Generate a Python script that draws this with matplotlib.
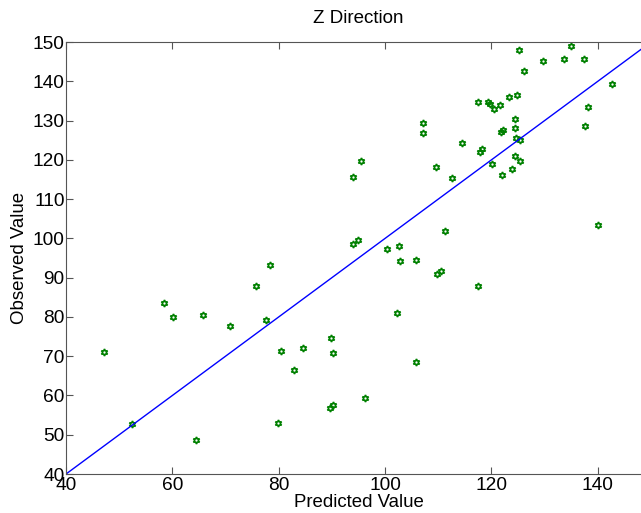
import numpy as np
import matplotlib
matplotlib.use("Agg")
from matplotlib import pyplot as plt

plt.rcParams['font.family'] = ['Liberation Sans', 'DejaVu Sans']

predicted = [47.1, 52.5, 58.4, 60.1, 65.8, 64.4, 70.8, 75.7, 78.4, 77.7,
             80.4, 84.6, 82.9, 79.9, 89.8, 90.3, 89.7, 90.2, 102.8, 105.9,
             109.8, 110.5, 117.5, 102.3, 105.8, 96.3, 100.4, 102.7, 93.9, 94.9,
             111.3, 95.4, 93.9, 109.5, 112.5, 121.9, 123.8, 125.4, 124.5, 120.1,
             117.9, 118.2, 114.5, 107.1, 107.2, 124.6, 125.4, 121.8, 122.2, 124.5,
             124.5, 117.5, 119.3, 119.7, 120.4, 121.7, 123.4, 124.9, 126.2, 125.1,
             129.7, 133.7, 135.0, 137.5, 142.6, 138.2, 137.6, 140.1]
observed = [71.0, 52.7, 83.5, 80.1, 80.5, 48.6, 77.6, 87.9, 93.3, 79.2,
            71.4, 72.0, 66.4, 52.9, 74.7, 70.8, 56.7, 57.6, 94.3, 94.6,
            90.9, 91.7, 87.9, 81.1, 68.5, 59.4, 97.4, 98.0, 98.7, 99.6,
            101.9, 119.7, 115.6, 118.2, 115.4, 116.1, 117.8, 119.7, 121.1, 119.0,
            122.1, 122.8, 124.2, 129.3, 126.9, 125.5, 125.0, 127.0, 127.6, 128.1,
            130.3, 134.7, 134.7, 134.3, 133.0, 133.9, 135.9, 136.4, 142.7, 148.0,
            145.2, 145.8, 148.9, 145.8, 139.2, 133.4, 128.5, 103.4]
fit_x = [40, 150]

fig = plt.figure(figsize=(6.41, 5.13), dpi=100)
ax = fig.add_axes([0.103, 0.076, 0.9125, 0.842])

ax.plot(predicted, observed, linestyle='none', marker=(6, 1, 0), markersize=5,
        markerfacecolor='none', markeredgecolor='#008000', markeredgewidth=1.2)
ax.plot(fit_x, fit_x, color='#0000ff', linewidth=1)

ax.set_xlim(40, 150)
ax.set_ylim(40, 150)
ax.set_xticks(np.arange(40, 141, 20))
ax.set_yticks(np.arange(40, 151, 10))
ax.tick_params(direction='in', top=True, right=True, length=5, labelsize=13.8,
               color='#555555', pad=1)
ax.tick_params(axis='x', pad=2)
for s in ax.spines.values():
    s.set_color('#555555')

ax.set_title('Z Direction', fontsize=13.5, pad=14)
ax.set_xlabel('Predicted Value', fontsize=13.4, labelpad=0.5)
ax.set_ylabel('Observed Value', fontsize=13.4, labelpad=3)

fig.savefig('out.png', dpi=100)
